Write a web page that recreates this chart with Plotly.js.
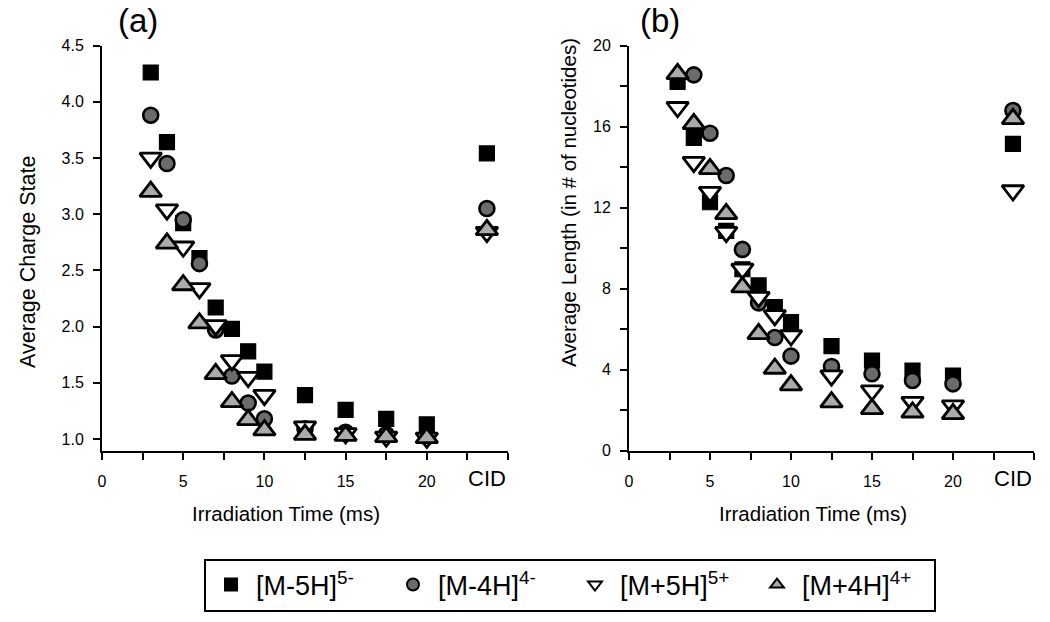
<!DOCTYPE html>
<html><head><meta charset="utf-8">
<script src="https://cdn.plot.ly/plotly-3.0.1.min.js"></script>
<style>html,body{margin:0;padding:0;background:#fff}#chart{width:1050px;height:622px}</style>
</head><body><div id="chart"></div>
<script>
// ---- data ----
const times = [3, 4, 5, 6, 7, 8, 9, 10, 12.5, 15, 17.5, 20];
const cidPos = 23.7;              // where the CID column sits on the time axis
const cidLabel = 'CID';
const seriesNames = ['[M-5H]<sup>5-</sup>', '[M-4H]<sup>4-</sup>', '[M+5H]<sup>5+</sup>', '[M+4H]<sup>4+</sup>'];
const xTitle = 'Irradiation Time (ms)';
const yTitleA = 'Average Charge State';
const yTitleB = 'Average Length (in # of nucleotides)';

// (a) average charge state
const chargeM5H = [4.26, 3.64, 2.92, 2.61, 2.17, 1.98, 1.78, 1.60, 1.39, 1.26, 1.18, 1.13];
const chargeM4H = [3.88, 3.45, 2.95, 2.56, 1.97, 1.56, 1.32, 1.18, 1.09, 1.06, 1.04, 1.02];
const chargeP5H = [3.50, 3.04, 2.71, 2.34, 2.01, 1.70, 1.55, 1.39, 1.11, 1.05, 1.02, 1.01];
const chargeP4H = [3.20, 2.74, 2.37, 2.03, 1.58, 1.33, 1.17, 1.08, 1.04, 1.03, 1.02, 1.01];
const chargeCID = [3.54, 3.05, 2.84, 2.86];

// (b) average length (in # of nucleotides)
const lenM5H = [18.2, 15.44, 12.26, 10.85, 8.95, 8.15, 7.08, 6.34, 5.15, 4.44, 3.95, 3.70];
const lenM4H = [null, 18.55, 15.67, 13.58, 9.93, 7.29, 5.58, 4.66, 4.15, 3.79, 3.46, 3.29];
const lenP5H = [16.95, 14.24, 12.76, 10.78, 8.97, 7.57, 6.67, 5.68, 3.70, 2.96, 2.39, 2.22];
const lenP4H = [18.6, 16.13, 13.91, 11.69, 8.07, 5.76, 4.05, 3.23, 2.39, 2.06, 1.89, 1.81];
const lenCID = [15.14, 16.79, 12.84, 16.38];

// ticks
const xTickVals = [0, 2.5, 5, 7.5, 10, 12.5, 15, 17.5, 20, 22.5, 25];
const xTickText = ['0', '', '5', '', '10', '', '15', '', '20', '', ''];
const yaTickVals = [1.0, 1.5, 2.0, 2.5, 3.0, 3.5, 4.0, 4.5];
const yaTickText = ['1.0', '1.5', '2.0', '2.5', '3.0', '3.5', '4.0', '4.5'];
const ybTickVals = [0, 2, 4, 6, 8, 10, 12, 14, 16, 18, 20];
const ybTickText = ['0', '', '4', '', '8', '', '12', '', '16', '', '20'];

// ---- styles ----
const markerStyles = [
  {symbol: 'square', size: 15, color: '#000000', line: {color: '#000000', width: 1.2}},
  {symbol: 'circle', size: 15, color: '#6b6b6b', line: {color: '#000000', width: 2.6}},
  {symbol: 'triangle-down', size: 19, color: '#ffffff', line: {color: '#000000', width: 2.8}},
  {symbol: 'triangle-up', size: 19, color: '#ababab', line: {color: '#000000', width: 2.8}}
];

const xs = times.concat([cidPos]);
const panelA = [chargeM5H, chargeM4H, chargeP5H, chargeP4H];
const panelB = [lenM5H, lenM4H, lenP5H, lenP4H];

const traces = [];
panelA.forEach((vals, i) => {
  traces.push({
    type: 'scatter', mode: 'markers', x: xs, y: vals.concat([chargeCID[i]]),
    xaxis: 'x', yaxis: 'y', name: seriesNames[i], marker: markerStyles[i],
    showlegend: true, legendgroup: 's' + i, cliponaxis: false
  });
});
panelB.forEach((vals, i) => {
  traces.push({
    type: 'scatter', mode: 'markers', x: xs, y: vals.concat([lenCID[i]]),
    xaxis: 'x2', yaxis: 'y2', name: seriesNames[i], marker: markerStyles[i],
    showlegend: false, legendgroup: 's' + i, cliponaxis: false
  });
});

const W = 1050, H = 622;
const FONT = 'Liberation Sans, Arial, sans-serif';
const yDom = [1 - 450.5 / H, 1 - 45.5 / H];

function xAxis(dom, anchor) {
  return {
    domain: dom, anchor: anchor, range: [0, 25], showline: true, linecolor: '#000', linewidth: 2,
    ticks: 'outside', ticklen: 7, tickwidth: 2, tickcolor: '#000', ticklabelstandoff: 8,
    tickmode: 'array', tickvals: xTickVals, ticktext: xTickText,
    showgrid: false, zeroline: false, tickfont: {size: 16, color: '#000'}
  };
}
function yAxis(anchor, range, tv, tt) {
  return {
    domain: yDom, anchor: anchor, range: range, showline: true, linecolor: '#000', linewidth: 2,
    ticks: 'outside', ticklen: 7, tickwidth: 2, tickcolor: '#000', ticklabelstandoff: 6,
    tickmode: 'array', tickvals: tv, ticktext: tt,
    showgrid: false, zeroline: false, tickfont: {size: 16, color: '#000'}
  };
}
function txt(x, y, text, size, extra) {
  return Object.assign({xref: 'paper', yref: 'paper', x: x / W, y: 1 - y / H, text: text,
    showarrow: false, xanchor: 'center', yanchor: 'middle', font: {size: size, color: '#000'}}, extra || {});
}

const layout = {
  width: W, height: H, autosize: false,
  margin: {l: 0, r: 0, t: 0, b: 0},
  paper_bgcolor: '#fff', plot_bgcolor: '#fff',
  font: {family: FONT, color: '#000'},
  xaxis: xAxis([102 / W, 508 / W], 'y'),
  yaxis: yAxis('x', [0.898, 4.5], yaTickVals, yaTickText),
  xaxis2: xAxis([629 / W, 1034 / W], 'y2'),
  yaxis2: yAxis('x2', [0, 20], ybTickVals, ybTickText),
  legend: {
    orientation: 'h', x: 570 / W, xanchor: 'center', y: 1 - 585 / H, yanchor: 'middle',
    bordercolor: '#000', borderwidth: 2, bgcolor: '#fff', entrywidth: 127, itemwidth: 40,
    font: {size: 27, color: '#000'}, itemsizing: 'constant', traceorder: 'normal'
  },
  annotations: [
    {xref: 'x', yref: 'paper', x: cidPos, y: 1 - 478 / H, text: cidLabel, showarrow: false,
     xanchor: 'center', yanchor: 'middle', font: {size: 22, color: '#000'}},
    {xref: 'x2', yref: 'paper', x: cidPos, y: 1 - 478 / H, text: cidLabel, showarrow: false,
     xanchor: 'center', yanchor: 'middle', font: {size: 22, color: '#000'}},
    txt(286, 513, xTitle, 20.5),
    txt(813, 513, xTitle, 20.5),
    txt(28, 262, yTitleA, 21.5, {textangle: -90}),
    txt(569, 203, yTitleB, 20.5, {textangle: -90}),
    txt(138, 21, '(a)', 33),
    txt(660, 21, '(b)', 33)
  ]
};

Plotly.newPlot('chart', traces, layout, {displayModeBar: false, responsive: false});
</script>
</body></html>
